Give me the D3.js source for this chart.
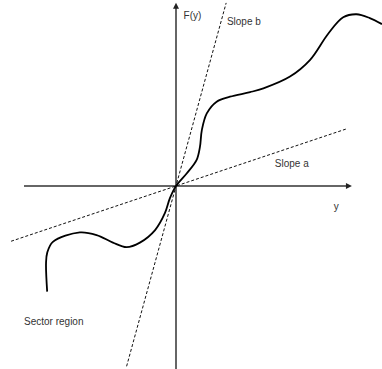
<!DOCTYPE html>
<html>
<head>
<meta charset="utf-8">
<script src="https://cdn.jsdelivr.net/npm/d3@7"></script>
<style>
  html, body { margin: 0; padding: 0; background: #fff; }
  svg { display: block; }
  text { font-family: "Liberation Sans", Arial, sans-serif; font-size: 10px; fill: #333; }
</style>
</head>
<body>
<svg id="chart" width="382" height="369"></svg>
<script>
// Nonlinear characteristic F(y) and the two bounding slopes of its sector
const curveX = [-3.39, -3.42, -3.39, -3.24, -2.53, -2.09, -1.66, -1.30, -0.95, -0.55, -0.29, -0.16, 0.00, 0.28, 0.54, 0.63, 0.68, 0.81, 1.07, 1.42, 1.95, 2.30, 3.00, 3.53, 4.00, 4.40, 4.75, 5.10, 5.42];
const curveY = [-2.78, -2.03, -1.76, -1.47, -1.22, -1.29, -1.49, -1.61, -1.49, -1.16, -0.71, -0.32, 0.00, 0.33, 0.68, 1.03, 1.47, 1.91, 2.22, 2.35, 2.47, 2.57, 2.88, 3.32, 4.00, 4.44, 4.52, 4.42, 4.26];

// Sector bounds: lines through the origin
const slopeA = 0.335;
const slopeAExtent = [-4.34, 4.47];
const slopeB = 3.65;
const slopeBExtent = [-1.30, 1.32];

// Axis extents
const xAxisExtent = [-4.0, 4.63];
const yAxisExtent = [-4.82, 4.82];

const labels = [
  { text: "F(y)", x: 0.2, y: 4.47 },
  { text: "Slope b", x: 1.34, y: 4.3 },
  { text: "Slope a", x: 2.6, y: 0.58 },
  { text: "y", x: 4.15, y: -0.55 },
  { text: "Sector region", x: -4.0, y: -3.6 }
];

const svg = d3.select("#chart");
const x = d3.scaleLinear().domain([-4, 4]).range([24, 328]);
const y = d3.scaleLinear().domain([-4, 4]).range([338, 34]);

const axisColor = "#666";

// Horizontal axis with arrowhead
svg.append("line")
  .attr("x1", x(xAxisExtent[0])).attr("y1", y(0))
  .attr("x2", x(xAxisExtent[1]) - 4).attr("y2", y(0))
  .attr("stroke", axisColor).attr("stroke-width", 2);
{
  const tx = x(xAxisExtent[1]), ty = y(0);
  svg.append("path")
    .attr("d", `M${tx},${ty} L${tx - 6},${ty - 3} L${tx - 6},${ty + 3} Z`)
    .attr("fill", "#222");
}

// Vertical axis with arrowhead
svg.append("line")
  .attr("x1", x(0)).attr("y1", y(yAxisExtent[0]))
  .attr("x2", x(0)).attr("y2", y(yAxisExtent[1]) + 4)
  .attr("stroke", axisColor).attr("stroke-width", 2);
{
  const tx = x(0), ty = y(yAxisExtent[1]);
  svg.append("path")
    .attr("d", `M${tx},${ty} L${tx - 3},${ty + 6} L${tx + 3},${ty + 6} Z`)
    .attr("fill", "#222");
}

// Dashed sector boundaries
function slopeLine(k, ext) {
  svg.append("line")
    .attr("x1", x(ext[0])).attr("y1", y(k * ext[0]))
    .attr("x2", x(ext[1])).attr("y2", y(k * ext[1]))
    .attr("stroke", "#111").attr("stroke-width", 1)
    .attr("stroke-dasharray", "3,2");
}
slopeLine(slopeA, slopeAExtent);
slopeLine(slopeB, slopeBExtent);

// The characteristic curve
const pts = curveX.map((v, i) => [v, curveY[i]]);
const line = d3.line()
  .x(d => x(d[0]))
  .y(d => y(d[1]))
  .curve(d3.curveCatmullRom.alpha(0.5));
svg.append("path")
  .attr("d", line(pts))
  .attr("fill", "none")
  .attr("stroke", "#000")
  .attr("stroke-width", 1.8);

// Labels
svg.selectAll("text.lbl")
  .data(labels)
  .enter().append("text")
  .attr("class", "lbl")
  .attr("x", d => x(d.x))
  .attr("y", d => y(d.y))
  .attr("dominant-baseline", "middle")
  .text(d => d.text);
</script>
</body>
</html>
